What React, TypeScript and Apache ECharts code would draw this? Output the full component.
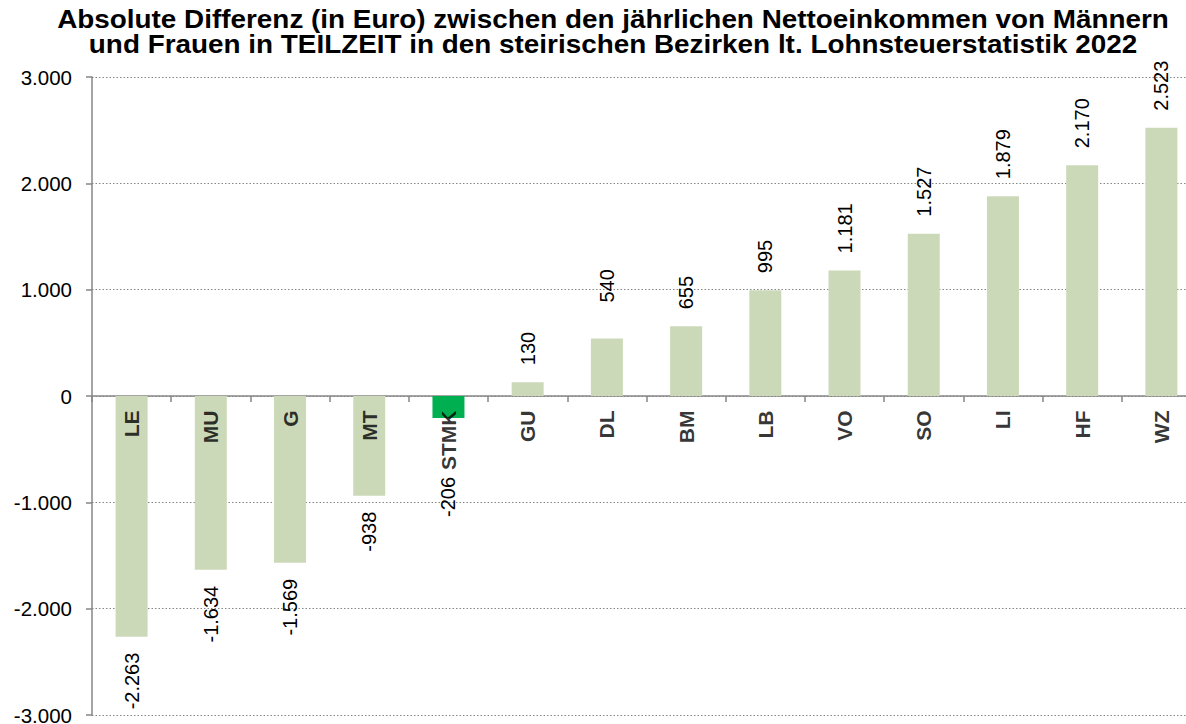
import React, { useEffect, useRef } from "react";
import * as echarts from "echarts";

const categories = ["LE", "MU", "G", "MT", "STMK", "GU", "DL", "BM", "LB", "VO", "SO", "LI", "HF", "WZ"];
const values = [-2263, -1634, -1569, -938, -206, 130, 540, 655, 995, 1181, 1527, 1879, 2170, 2523];
const highlightCategory = "STMK";
const titleLines = [
  "Absolute Differenz (in Euro) zwischen den jährlichen Nettoeinkommen von Männern",
  "und Frauen in TEILZEIT in den steirischen Bezirken lt. Lohnsteuerstatistik 2022",
];
const labelDistanceOverrides: Record<string, number> = { DL: 36, STMK: 59 };

function fmt(v: number): string {
  const neg = v < 0;
  const s = String(Math.abs(Math.round(v)));
  const parts: string[] = [];
  for (let i = s.length; i > 0; i -= 3) parts.unshift(s.slice(Math.max(0, i - 3), i));
  return (neg ? "-" : "") + parts.join(".");
}

const FONT = "Liberation Sans, Arial, sans-serif";

export default function App() {
  const ref = useRef<HTMLDivElement>(null);
  useEffect(() => {
    if (!ref.current) return;
    const chart = echarts.init(ref.current, undefined, { renderer: "svg" });
    const data = values.map((v, i) => {
      const cat = categories[i];
      const dist = labelDistanceOverrides[cat] ?? (v >= 0 ? 17 : 16);
      return {
        value: v,
        itemStyle: { color: cat === highlightCategory ? "#00B050" : "#CCD9B8" },
        label: {
          position: v >= 0 ? "top" : "bottom",
          align: v >= 0 ? "left" : "right",
          verticalAlign: "middle",
          distance: dist,
        },
      };
    });
    const catLabelData = categories.map((c) => ({ name: c, value: [c, 0] }));
    chart.setOption({
      animation: false,
      graphic: titleLines.map((line, i) => ({
        type: "text",
        x: 613,
        y: 20 + i * 25,
        scaleX: 1.115,
        silent: true,
        style: {
          text: line,
          fill: "#000",
          font: `bold 25px ${FONT}`,
          align: "center",
          verticalAlign: "middle",
        },
      })),
      grid: { left: 92, top: 77, width: 1109, height: 638, containLabel: false, outerBoundsMode: "none" },
      xAxis: {
        type: "category",
        data: categories,
        axisLine: { onZero: true, lineStyle: { color: "#868686", width: 1.5 } },
        axisTick: { show: true, length: 6, alignWithLabel: false, lineStyle: { color: "#868686", width: 1.5 } },
        axisLabel: { show: false },
        splitLine: { show: false },
      },
      yAxis: {
        type: "value",
        min: -3000,
        max: 3000,
        interval: 1000,
        axisLine: { show: true, lineStyle: { color: "#868686", width: 1.5 } },
        axisTick: { show: true, length: 6, lineStyle: { color: "#868686", width: 1.5 } },
        axisLabel: {
          margin: 20,
          color: "#000",
          fontFamily: FONT,
          fontSize: 20.5,
          lineHeight: 16,
          formatter: (v: number) => fmt(v),
        },
        splitLine: { show: true, lineStyle: { color: "#868686", type: [1.5, 2], width: 1.2 } },
      },
      series: [
        {
          type: "bar",
          data,
          barWidth: 32,
          label: {
            show: true,
            rotate: 90,
            color: "#000",
            fontFamily: FONT,
            fontSize: 20,
            formatter: (p: any) => fmt(p.value),
          },
        },
        {
          type: "scatter",
          data: catLabelData,
          symbolSize: 1,
          itemStyle: { color: "rgba(0,0,0,0)" },
          silent: true,
          z: 5,
          label: {
            show: true,
            position: "bottom",
            distance: 14,
            rotate: 90,
            align: "right",
            verticalAlign: "middle",
            color: "#000",
            fontFamily: FONT,
            fontSize: 21,
            fontWeight: "bold",
            formatter: (p: any) => p.name,
          },
        },
      ],
    });
    return () => chart.dispose();
  }, []);
  return (
    <div
      ref={ref}
      style={{ position: "absolute", left: 0, top: 0, width: 1186, height: 724, background: "#fff" }}
    />
  );
}
